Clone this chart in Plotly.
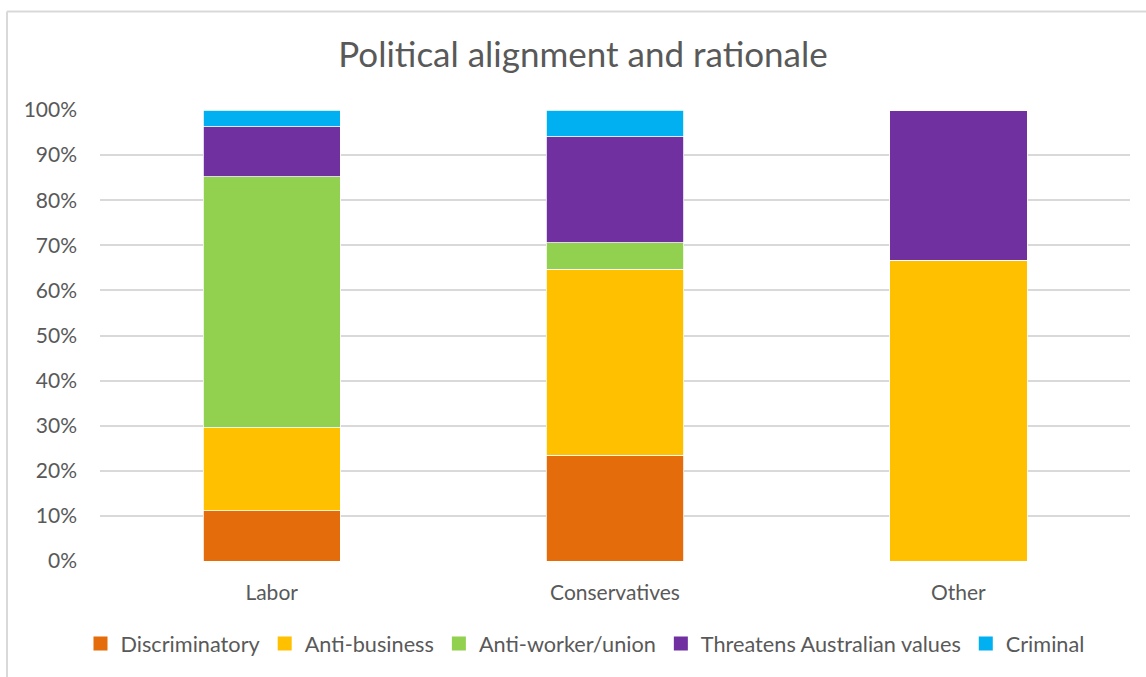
import plotly.graph_objects as go

# Share of each rationale within each political alignment (%)
parties = ["Labor", "Conservatives", "Other"]
discriminatory = [11.1, 23.5, 0.0]
anti_business = [18.5, 41.2, 66.7]
anti_worker_union = [55.6, 5.9, 0.0]
threatens_values = [11.1, 23.5, 33.3]
criminal = [3.7, 5.9, 0.0]

series = [
    ("Discriminatory", discriminatory, "#E46C0A"),
    ("Anti-business", anti_business, "#FFC000"),
    ("Anti-worker/union", anti_worker_union, "#92D050"),
    ("Threatens Australian values", threatens_values, "#7030A0"),
    ("Criminal", criminal, "#00B0F0"),
]

FONT = "Lato, 'Open Sans', sans-serif"
GREY = "#595959"

fig = go.Figure()
for name, vals, color in series:
    fig.add_trace(go.Bar(
        x=parties, y=vals, name=name, legendgroup=name, showlegend=False,
        marker=dict(color=color, line=dict(color="white", width=0.8)),
        width=0.4,
    ))
# legend keys drawn as larger square swatches
for name, vals, color in series:
    fig.add_trace(go.Scatter(
        x=[None], y=[None], name=name, legendgroup=name, mode="markers",
        marker=dict(symbol="square", size=14, color=color),
    ))

W, H = 1146, 677
L, R, T, B = 100, 16, 110, 116
pw, ph = W - L - R, H - T - B

fig.update_layout(
    width=W, height=H,
    margin=dict(l=L, r=R, t=T, b=B),
    barmode="stack",
    paper_bgcolor="white", plot_bgcolor="white",
    font=dict(family=FONT, color=GREY, size=21),
    title=dict(text="Political alignment and rationale", x=(583 - L) / pw, xref="paper",
               xanchor="center", y=1 - 55 / H, yanchor="middle",
               font=dict(size=35, color=GREY, family=FONT)),
    showlegend=True,
    legend=dict(orientation="h", x=(585 - L) / pw, xanchor="center",
                y=(H - B - 644) / ph, yanchor="middle",
                font=dict(size=21.7, color=GREY), traceorder="normal",
                itemwidth=30, tracegroupgap=0),
    xaxis=dict(showgrid=False, showline=False, ticks="", ticklabelstandoff=17,
               tickfont=dict(size=21, color=GREY)),
    yaxis=dict(range=[0, 100], tickvals=list(range(0, 101, 10)),
               ticktext=[f"{v}%" for v in range(0, 101, 10)],
               showgrid=True, gridcolor="#D9D9D9", gridwidth=1.5,
               zeroline=False, showline=False, ticks="", ticklabelstandoff=22,
               tickfont=dict(size=21, color=GREY)),
    bargap=0.6,
    shapes=[
        # chart-area border (left and top edges)
        dict(type="line", xref="paper", yref="paper",
             x0=(7 - L) / pw, x1=(7 - L) / pw,
             y0=(H - B - 700) / ph, y1=1 + (T - 11.5) / ph,
             line=dict(color="#D9D9D9", width=2)),
        dict(type="line", xref="paper", yref="paper",
             x0=(7 - L) / pw, x1=(1200 - L) / pw,
             y0=1 + (T - 11.5) / ph, y1=1 + (T - 11.5) / ph,
             line=dict(color="#D9D9D9", width=2)),
    ],
)

fig.write_html("out.html")
